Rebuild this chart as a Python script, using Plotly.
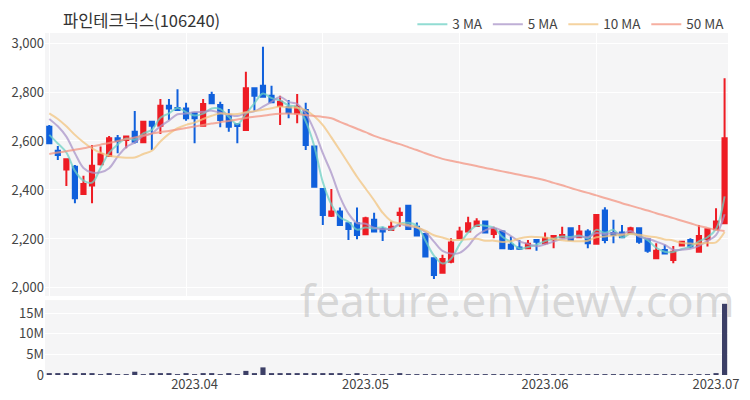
import pandas as pd
import plotly.graph_objects as go

# ---- data -------------------------------------------------------------
holidays = ["2023-05-01", "2023-05-05", "2023-05-29", "2023-06-06"]
dates = [d.strftime("%Y-%m-%d") for d in pd.bdate_range("2023-03-08", "2023-07-03")
         if d.strftime("%Y-%m-%d") not in holidays]

open_ = [2658, 2560, 2484, 2495, 2384, 2418, 2505, 2539, 2611, 2604,
         2638, 2595, 2679, 2662, 2744, 2735, 2733, 2713, 2662, 2788,
         2747, 2703, 2668, 2645, 2815, 2826, 2785, 2743, 2738, 2713,
         2727, 2577, 2404, 2295, 2312, 2264, 2264, 2219, 2278, 2241,
         2237, 2298, 2336, 2250, 2220, 2121, 2062, 2107, 2203, 2230,
         2253, 2271, 2220, 2230, 2176, 2165, 2162, 2196, 2182, 2199,
         2207, 2244, 2207, 2230, 2180, 2316, 2224, 2226, 2224, 2244,
         2199, 2121, 2155, 2114, 2173, 2196, 2148, 2199, 2240, 2264]
high = [2665, 2580, 2529, 2502, 2458, 2584, 2577, 2620, 2624, 2620,
        2722, 2682, 2682, 2771, 2771, 2811, 2756, 2715, 2771, 2801,
        2760, 2731, 2670, 2883, 2815, 2985, 2826, 2785, 2767, 2792,
        2756, 2580, 2405, 2404, 2328, 2265, 2328, 2291, 2307, 2250,
        2271, 2328, 2340, 2267, 2222, 2122, 2135, 2203, 2250, 2291,
        2284, 2275, 2250, 2237, 2210, 2196, 2196, 2199, 2226, 2216,
        2250, 2245, 2257, 2240, 2300, 2329, 2278, 2257, 2250, 2246,
        2203, 2182, 2176, 2171, 2190, 2203, 2257, 2242, 2325, 2856]
low = [2588, 2522, 2416, 2346, 2380, 2346, 2500, 2535, 2550, 2570,
       2590, 2593, 2563, 2629, 2686, 2725, 2683, 2591, 2660, 2750,
       2656, 2638, 2591, 2645, 2724, 2780, 2754, 2665, 2693, 2672,
       2563, 2410, 2257, 2290, 2257, 2196, 2199, 2216, 2226, 2192,
       2235, 2250, 2240, 2212, 2126, 2036, 2058, 2101, 2200, 2226,
       2250, 2224, 2203, 2159, 2155, 2155, 2159, 2152, 2176, 2162,
       2205, 2192, 2203, 2162, 2178, 2182, 2182, 2203, 2220, 2180,
       2144, 2118, 2138, 2101, 2170, 2162, 2144, 2169, 2236, 2264]
close = [2591, 2543, 2525, 2366, 2424, 2499, 2546, 2611, 2600, 2618,
         2597, 2679, 2662, 2744, 2733, 2727, 2693, 2693, 2751, 2754,
         2686, 2658, 2661, 2815, 2785, 2781, 2758, 2760, 2716, 2740,
         2584, 2413, 2298, 2312, 2257, 2241, 2216, 2284, 2230, 2230,
         2250, 2307, 2241, 2214, 2128, 2053, 2118, 2185, 2230, 2264,
         2271, 2226, 2240, 2162, 2160, 2160, 2180, 2189, 2203, 2212,
         2216, 2196, 2230, 2182, 2298, 2196, 2216, 2207, 2244, 2189,
         2152, 2152, 2141, 2148, 2189, 2169, 2212, 2240, 2271, 2611]
volume = [250000, 300000, 350000, 400000, 300000, 250000, 200000, 250000, 200000, 200000,
          800000, 200000, 350000, 400000, 300000, 200000, 250000, 200000, 300000, 250000,
          200000, 250000, 200000, 1000000, 300000, 1850000, 400000, 300000, 300000, 350000,
          350000, 400000, 350000, 300000, 250000, 200000, 250000, 150000, 200000, 150000,
          100000, 250000, 200000, 150000, 150000, 200000, 150000, 150000, 150000, 100000,
          100000, 120000, 100000, 120000, 100000, 100000, 120000, 100000, 120000, 100000,
          100000, 120000, 100000, 150000, 200000, 150000, 120000, 100000, 100000, 120000,
          100000, 120000, 100000, 120000, 100000, 150000, 200000, 200000, 350000, 17300000]

ma3 = [2625, 2590, 2553, 2478, 2438, 2430, 2490, 2552, 2586, 2610,
       2605, 2631, 2646, 2695, 2713, 2735, 2718, 2704, 2712, 2733,
       2730, 2699, 2668, 2711, 2754, 2794, 2775, 2766, 2745, 2739,
       2680, 2579, 2432, 2341, 2289, 2270, 2238, 2247, 2243, 2248,
       2237, 2262, 2266, 2254, 2194, 2132, 2100, 2119, 2178, 2226,
       2255, 2254, 2246, 2209, 2187, 2161, 2167, 2176, 2191, 2201,
       2210, 2208, 2214, 2203, 2237, 2225, 2237, 2206, 2222, 2213,
       2195, 2164, 2148, 2147, 2159, 2169, 2190, 2207, 2241, 2374]
ma5 = [2690, 2660, 2618, 2550, 2490, 2471, 2472, 2489, 2536, 2575,
       2594, 2621, 2631, 2660, 2683, 2709, 2712, 2718, 2719, 2724,
       2715, 2708, 2702, 2715, 2721, 2740, 2760, 2780, 2760, 2751,
       2712, 2643, 2550, 2469, 2373, 2304, 2265, 2262, 2246, 2240,
       2242, 2260, 2252, 2248, 2228, 2189, 2151, 2140, 2143, 2170,
       2214, 2235, 2246, 2233, 2212, 2190, 2180, 2170, 2178, 2189,
       2200, 2203, 2211, 2207, 2224, 2220, 2224, 2220, 2232, 2210,
       2202, 2189, 2176, 2156, 2156, 2160, 2172, 2192, 2216, 2301]
ma10 = [2713, 2690, 2660, 2625, 2595, 2570, 2552, 2540, 2535, 2532,
        2533, 2547, 2560, 2598, 2629, 2652, 2666, 2675, 2690, 2703,
        2712, 2710, 2710, 2717, 2722, 2728, 2734, 2741, 2737, 2736,
        2726, 2701, 2665, 2615, 2562, 2508, 2454, 2406, 2358, 2307,
        2273, 2263, 2257, 2247, 2234, 2215, 2206, 2196, 2196, 2199,
        2201, 2193, 2193, 2188, 2191, 2202, 2208, 2208, 2206, 2200,
        2195, 2192, 2191, 2193, 2207, 2210, 2214, 2216, 2220, 2217,
        2211, 2207, 2198, 2194, 2183, 2181, 2180, 2184, 2186, 2228]
ma50 = [2547, 2553, 2558, 2564, 2570, 2578, 2585, 2592, 2600, 2607,
        2614, 2622, 2630, 2636, 2641, 2647, 2653, 2659, 2665, 2671,
        2677, 2682, 2688, 2694, 2699, 2703, 2708, 2711, 2712, 2710,
        2706, 2702, 2698, 2693, 2678, 2664, 2650, 2636, 2621, 2609,
        2598, 2587, 2575, 2563, 2550, 2538, 2527, 2519, 2512, 2505,
        2498, 2490, 2483, 2476, 2469, 2462, 2455, 2448, 2440, 2429,
        2419, 2408, 2398, 2388, 2378, 2367, 2357, 2346, 2336, 2326,
        2316, 2305, 2295, 2285, 2274, 2264, 2253, 2245, 2237, 2232]

price_ticks = [2000, 2200, 2400, 2600, 2800, 3000]
vol_ticks = [0, 5000000, 10000000, 15000000]
vol_tick_text = ["0", "5M", "10M", "15M"]
month_tick_dates = ["2023-03-31", "2023-04-28", "2023-06-01", "2023-06-30"]
month_tick_text = ["2023.04", "2023.05", "2023.06", "2023.07"]
grid_dates = [dates[0], dates[16], dates[32], dates[48], dates[64]]

# ---- figure -----------------------------------------------------------
RED = "#ee1c24"
BLUE = "#1060dc"
FONT = "Noto Sans CJK KR, Noto Sans, sans-serif"

fig = go.Figure()
fig.add_trace(go.Candlestick(
    x=dates, open=open_, high=high, low=low, close=close,
    increasing=dict(line=dict(color=RED, width=2), fillcolor=RED),
    decreasing=dict(line=dict(color=BLUE, width=2), fillcolor=BLUE),
    whiskerwidth=0, showlegend=False, xaxis="x", yaxis="y"))

for name, vals, col in [("3 MA", ma3, "rgba(110,208,196,0.75)"),
                        ("5 MA", ma5, "rgba(170,148,200,0.75)"),
                        ("10 MA", ma10, "rgba(242,196,128,0.75)"),
                        ("50 MA", ma50, "rgba(243,148,130,0.75)")]:
    fig.add_trace(go.Scatter(x=dates, y=vals, mode="lines", name=name,
                             line=dict(color=col, width=2, shape="spline"),
                             xaxis="x", yaxis="y"))

fig.add_trace(go.Bar(x=dates, y=volume, marker=dict(color="#3c3f66", line=dict(width=0)),
                     width=0.6, showlegend=False, xaxis="x2", yaxis="y2"))

xr = [-0.5, 79.4]
fig.update_layout(
    width=750, height=400,
    margin=dict(l=37, r=30, t=25, b=33, autoexpand=False),
    paper_bgcolor="white", plot_bgcolor="#f5f5f6",
    font=dict(family=FONT, size=12, color="#444"),
    title=dict(text="파인테크닉스(106240)", x=55 / 750, xref="container", xanchor="left",
               y=1 - 13 / 400, yref="container", yanchor="middle",
               font=dict(size=16.5, color="#333", family=FONT)),
    legend=dict(orientation="h", x=1.002, xanchor="right", y=1.025, yanchor="middle",
                font=dict(size=13.5, color="#444"), bgcolor="rgba(0,0,0,0)"),
    xaxis=dict(type="category", domain=[0, 1], anchor="y", range=xr, automargin=False,
               tickmode="array", tickvals=grid_dates, showticklabels=False,
               showgrid=True, gridcolor="white", gridwidth=1,
               rangeslider=dict(visible=False), showline=False, zeroline=False),
    yaxis=dict(domain=[0.231, 1], range=[1967, 3041], tickvals=price_ticks, automargin=False,
               tickformat=",", gridcolor="white", gridwidth=1, zeroline=False,
               tickfont=dict(size=13, color="#444"), ticks="", ticklen=0),
    xaxis2=dict(type="category", domain=[0, 1], anchor="y2", range=xr, matches="x",
                automargin=False,
                tickmode="array", tickvals=month_tick_dates, ticktext=month_tick_text,
                showgrid=False, tickfont=dict(size=13, color="#444"), ticks=""),
    yaxis2=dict(domain=[0, 0.219], range=[0, 18200000], tickvals=vol_ticks, automargin=False,
                ticktext=vol_tick_text, gridcolor="white", zeroline=False,
                tickfont=dict(size=13, color="#444")),
    bargap=0.4,
)

fig.add_annotation(text="feature.enViewV.com", xref="paper", yref="paper",
                   x=(517 - 45) / 683, y=(375 - 300) / 342, xanchor="center", yanchor="middle",
                   showarrow=False,
                   font=dict(size=44, color="rgba(175,175,175,0.45)", family="Noto Sans"))

fig.write_html("out.html")
